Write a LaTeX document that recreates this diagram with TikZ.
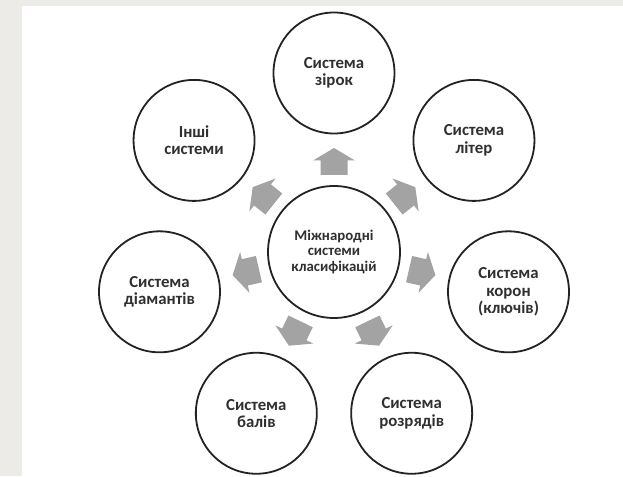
\documentclass[tikz,border=0pt]{standalone}
\usepackage{fontspec}
\setmainfont{Carlito}
\usetikzlibrary{calc}
\definecolor{paper}{HTML}{ECEBE7}
\definecolor{ring}{HTML}{232323}
\definecolor{txt}{HTML}{303030}
\definecolor{arr}{HTML}{A3A3A3}
\tikzset{
  outer/.style={circle, draw=ring, line width=1.8pt, minimum size=121pt, inner sep=0pt,
    align=center, text=txt, font=\bfseries\fontsize{16.8}{17.4}\selectfont},
  hub/.style={circle, draw=ring, line width=1.8pt, minimum size=132pt, inner sep=0pt,
    align=center, text=txt, font=\bfseries\fontsize{14.8}{15.2}\selectfont},
  blockarrow/.style={fill=arr, draw=none}
}
\begin{document}
\begin{tikzpicture}[x=1pt,y=1pt]
\useasboundingbox (0,0) rectangle (623,476);
\fill[paper] (0,0) rectangle (623,476);
\fill[white] (22,0) rectangle (623,470);
\node[hub] (c) at (334,224) {Міжнародні\\системи\\класифікацій};
\node[outer] (s1) at ($(c.center)+(90:179)$) {Система\\зірок};
\node[outer] (s2) at ($(c.center)+(38.571:179)$) {Система\\літер};
\node[outer] (s3) at ($(c.center)+(-12.857:179)$) {Система\\корон\\(ключів)};
\node[outer] (s4) at ($(c.center)+(-64.286:179)$) {Система\\розрядів};
\node[outer] (s5) at ($(c.center)+(-115.714:179)$) {Система\\балів};
\node[outer] (s6) at ($(c.center)+(-167.143:179)$) {Система\\діамантів};
\node[outer] (s7) at ($(c.center)+(141.429:179)$) {Інші\\системи};
\foreach \a in {90,38.571,-12.857,-64.286,-115.714,-167.143,141.429}{
  \fill[blockarrow, shift={(c.center)}, rotate=\a]
    (77,-13.5) -- (91.5,-13.5) -- (91.5,-21) -- (104,0) -- (91.5,21) -- (91.5,13.5) -- (77,13.5) -- cycle;
}
\end{tikzpicture}
\end{document}
